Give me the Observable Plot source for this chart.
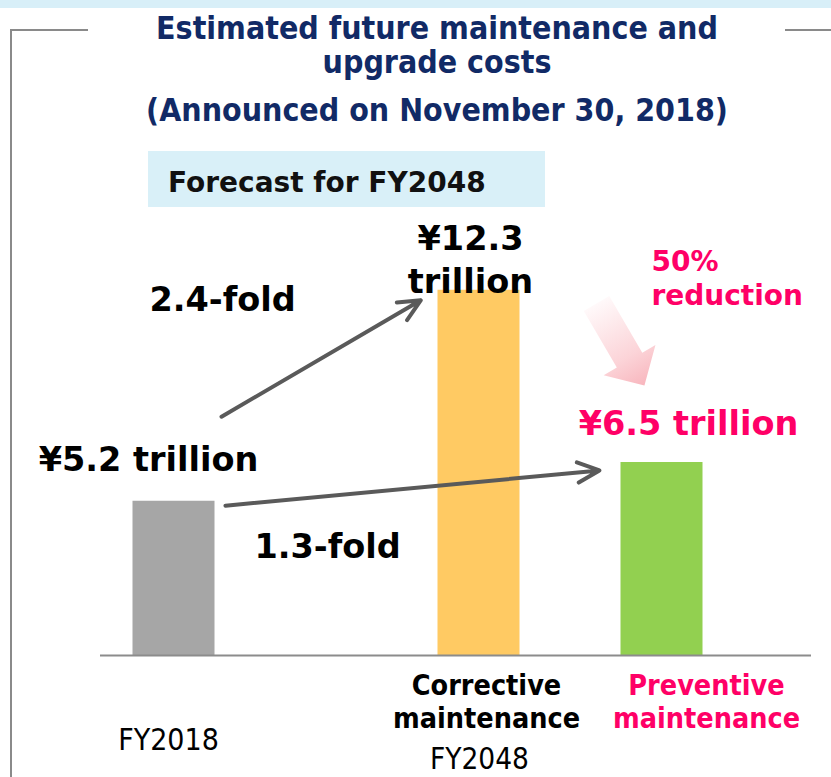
<!DOCTYPE html>
<html>
<head>
<meta charset="utf-8">
<script src="https://cdn.jsdelivr.net/npm/d3@7"></script>
<script src="https://cdn.jsdelivr.net/npm/@observablehq/plot@0.6"></script>
<style>
  html, body { margin: 0; padding: 0; background: #fff; }
  #wrap { position: relative; width: 831px; height: 777px; overflow: hidden; background: #fff; }
  #wrap svg { position: absolute; left: 0; top: 0; }
  .strip { position: absolute; left: 0; top: 0; width: 831px; height: 8px; background: #d8eff8; }
  .fl { position: absolute; background: #8a8a8a; }
  .tline { position: absolute; left: 0; width: 874px; text-align: center;
           font-family: "DejaVu Sans Condensed", "DejaVu Sans", sans-serif; font-stretch: condensed;
           font-weight: bold; color: #112a66; font-size: 31.8px; line-height: 1.164em; white-space: nowrap; }
  .box { position: absolute; left: 148px; top: 151px; width: 397px; height: 56px; background: #d9f0f8; }
  .boxtext { position: absolute; left: 168px; top: 167px; font-family: "DejaVu Sans", sans-serif;
             font-weight: bold; font-size: 28px; line-height: 1.164em; color: #111; white-space: nowrap; }
</style>
</head>
<body>
<div id="wrap">
  <div class="strip"></div>
  <div class="fl" style="left:10px; top:29px; width:78px; height:2px;"></div>
  <div class="fl" style="left:785px; top:29px; width:46px; height:2px;"></div>
  <div class="fl" style="left:10px; top:29px; width:2px; height:748px;"></div>
  <div class="box"></div>
  <div class="boxtext">Forecast for FY2048</div>
</div>
<script>
// ---- data ----
const categories = ["FY2018", "Corrective maintenance", "Preventive maintenance"];
const values = [5.2, 12.3, 6.5];
const valueLabels = ["¥5.2 trillion", "¥12.3\ntrillion", "¥6.5 trillion"];
const categoryLabels = ["", "Corrective\nmaintenance", "Preventive\nmaintenance"];
const yearLabels = ["FY2018", "FY2048"];
const foldLabels = ["2.4-fold", "1.3-fold"];
const reductionLabel = "50%\nreduction";
const titleLines = ["Estimated future maintenance and", "upgrade costs", "(Announced on November 30, 2018)"];
// arrow end values (trillion-yen units, along each arrow's line)
const arrowFrom = [7.10, 4.88];
const arrowTo = [13.10, 6.43];

// ---- layout (spacer slots give the uneven bar spacing) ----
const slots = [categories[0], "s1", "s2", "s3", "s4", categories[1], "s5", "s6", categories[2]];
const barColors = ["#a6a6a6", "#ffca63", "#92d050"];
const pink = "#ff0066";
const data = categories.map((c, i) => ({category: c, value: values[i]}));

const bold = "DejaVu Sans";
const cond = "DejaVu Sans Condensed";

const blockArrow = {
  draw(ctx, l) {
    const w = 14.75, hw = 30, hl = 29.5;
    ctx.moveTo(-w, 0);
    ctx.lineTo(-w, -(l - hl));
    ctx.lineTo(-hw, -(l - hl));
    ctx.lineTo(0, -l);
    ctx.lineTo(hw, -(l - hl));
    ctx.lineTo(w, -(l - hl));
    ctx.lineTo(w, 0);
    ctx.closePath();
  }
};

const one = [0];
const svg = Plot.plot({
  width: 831,
  height: 777,
  marginLeft: 173,
  marginRight: 170,
  marginTop: 180,
  marginBottom: 122,
  style: {overflow: "visible", background: "transparent"},
  x: {type: "point", domain: slots, padding: 0, axis: null},
  y: {domain: [0, 16], axis: null},
  color: {domain: categories, range: barColors},
  marks: [
    Plot.ruleX(data, {x: "category", y1: 0, y2: "value", stroke: "category", strokeWidth: 82}),
    Plot.ruleY([0], {stroke: "#8c8c8c", strokeWidth: 2, insetLeft: -73, insetRight: -150}),
    // pink fading block arrow
    Plot.vector(one, {x: () => categories[2], y: () => values[2], dx: -65, dy: -159,
      rotate: 149.7, length: 95, anchor: "start", shape: blockArrow,
      fill: "url(#pinkGrad)", stroke: "none", fillOpacity: 0.85}),
    // growth arrows
    Plot.arrow(one, {x1: () => categories[0], y1: () => arrowFrom[0], x2: () => categories[1], y2: () => arrowTo[0],
      stroke: "#5a5a5a", strokeWidth: 4, headLength: 9, headAngle: 50, insetStart: 55.6, insetEnd: 66.9}),
    Plot.arrow(one, {x1: () => categories[0], y1: () => arrowFrom[1], x2: () => categories[2], y2: () => arrowTo[1],
      stroke: "#5a5a5a", strokeWidth: 4, headLength: 9, headAngle: 50, insetStart: 52.2, insetEnd: 62.3}),
    // value labels
    Plot.text(one, {x: () => categories[0], y: () => values[0], text: () => valueLabels[0],
      dx: -25, dy: -41, fontFamily: bold, fontWeight: "bold", fontSize: 33.5, fill: "#000"}),
    Plot.text(one, {x: () => categories[1], y: () => values[1], text: () => valueLabels[1],
      dx: -8, dy: -33, lineHeight: 1.28, fontFamily: bold, fontWeight: "bold", fontSize: 33.5, fill: "#000"}),
    Plot.text(one, {x: () => categories[2], y: () => values[2], text: () => valueLabels[2],
      dx: 27, dy: -38, fontFamily: bold, fontWeight: "bold", fontSize: 33.5, fill: pink}),
    Plot.text(one, {x: () => categories[2], y: () => values[2], text: () => reductionLabel,
      textAnchor: "start", dx: -10, dy: -185, lineHeight: 1.214, fontFamily: bold, fontWeight: "bold", fontSize: 28, fill: pink}),
    Plot.text(one, {x: () => categories[0], y: () => values[0], text: () => foldLabels[0],
      textAnchor: "start", dx: -24, dy: -201, fontFamily: bold, fontWeight: "bold", fontSize: 33.5, fill: "#000"}),
    Plot.text(one, {x: () => categories[0], y: () => values[0], text: () => foldLabels[1],
      textAnchor: "start", dx: 81, dy: 46.5, fontFamily: bold, fontWeight: "bold", fontSize: 33.5, fill: "#000"}),
    // category labels
    Plot.text(one, {x: () => categories[1], y: 0, text: () => categoryLabels[1],
      dx: 8, dy: 45.5, lineHeight: 1.16, fontFamily: cond, fontWeight: "bold", fontSize: 28.5, fill: "#000"}),
    Plot.text(one, {x: () => categories[2], y: 0, text: () => categoryLabels[2],
      dx: 45, dy: 45.5, lineHeight: 1.16, fontFamily: cond, fontWeight: "bold", fontSize: 28.5, fill: pink}),
    Plot.text(one, {x: () => categories[0], y: 0, text: () => yearLabels[0],
      dx: -5, dy: 85, fontFamily: cond, fontSize: 30, fill: "#000"}),
    Plot.text(one, {x: () => categories[1], y: 0, text: () => yearLabels[1],
      dx: 1, dy: 104, fontFamily: cond, fontSize: 29.5, fill: "#000"})
  ]
});

// gradient for the fading arrow
const defs = d3.select(svg).insert("defs", ":first-child");
const g = defs.append("linearGradient").attr("id", "pinkGrad")
  .attr("x1", 0).attr("y1", 0).attr("x2", 0).attr("y2", 1);
g.append("stop").attr("offset", 0).attr("stop-color", "#f7a9b2");
g.append("stop").attr("offset", 0.35).attr("stop-color", "#fbccd1");
g.append("stop").attr("offset", 1).attr("stop-color", "#fff8f9");

const wrap = document.getElementById("wrap");
wrap.insertBefore(svg, wrap.firstChild);

// title lines
const tops = [8.5, 42.5, 90.5];
titleLines.forEach((t, i) => {
  const d = document.createElement("div");
  d.className = "tline";
  d.style.top = tops[i] + "px";
  d.textContent = t;
  wrap.appendChild(d);
});
</script>
</body>
</html>
